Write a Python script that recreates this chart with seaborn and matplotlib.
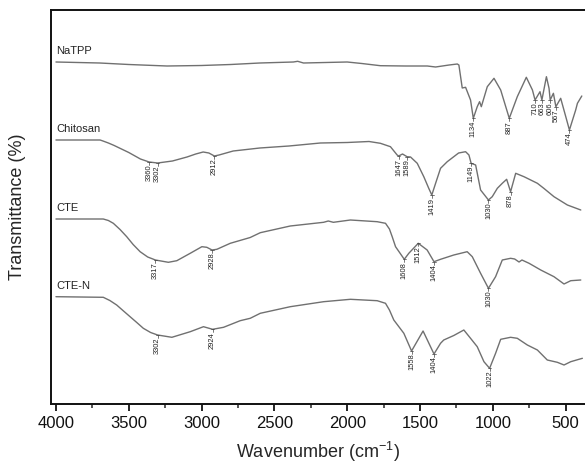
import numpy as np
import pandas as pd
import matplotlib
matplotlib.use("Agg")
import matplotlib.pyplot as plt
import seaborn as sns

# ---- data (wavenumber in cm-1, transmittance in offset arbitrary units) ----
natpp_w = [4000, 3850, 3700, 3500, 3237, 3000, 2800, 2600, 2370, 2340, 2300, 2150, 2000, 1900,
           1772, 1600, 1450, 1393, 1300, 1244, 1233, 1210, 1187, 1153, 1134, 1107, 1091, 1079,
           1038, 992, 946, 887, 832, 770, 728, 710, 676, 663, 632, 614, 606, 584, 567, 534,
           499, 474, 431, 419, 389]
natpp_t = [342, 341.5, 341, 339.5, 338, 338.5, 339.5, 341, 342, 342.7, 341, 341.5, 342, 340.5,
           338.3, 338, 338, 337, 339, 340, 339, 316, 316.7, 304, 285.7, 297.3, 302.3, 297.3,
           317.3, 325.7, 314, 285.7, 307.3, 326.7, 314, 304, 312.3, 304, 327.3, 315.7, 304,
           310.7, 297.3, 305.7, 287.3, 274, 294, 300.7, 308]

chitosan_w = [4000, 3850, 3697, 3677, 3640, 3600, 3550, 3500, 3420, 3360, 3302, 3200, 3100,
              3040, 2989, 2950, 2912, 2880, 2783, 2600, 2400, 2184, 2000, 1850, 1772, 1703,
              1657, 1647, 1620, 1589, 1565, 1519, 1474, 1440, 1419, 1390, 1359, 1313, 1235,
              1187, 1164, 1149, 1118, 1084, 1030, 1004, 969, 935, 905, 878, 843, 786, 694,
              650, 580, 488, 396]
chitosan_t = [264, 264, 264, 263, 261, 258.5, 255, 251.5, 245, 242, 241, 243, 247, 250, 252,
              251, 248, 249, 253, 256, 258, 261, 261.5, 262.5, 260.7, 257.3, 249, 248, 250,
              247.3, 247, 240.7, 227.3, 215.7, 209, 222, 235.7, 242.3, 251, 252.3, 249, 240.7,
              239, 214, 204, 207.3, 215.7, 220.7, 224.7, 212.3, 230.7, 227.3, 220.7, 215.7,
              207.3, 199, 194]

cte_w = [4000, 3675, 3640, 3606, 3560, 3514, 3470, 3422, 3370, 3317, 3228, 3170, 3078, 2998,
         2964, 2928, 2895, 2803, 2666, 2597, 2391, 2162, 2130, 2095, 1978, 1794, 1737, 1710,
         1691, 1668, 1608, 1577, 1512, 1451, 1404, 1359, 1268, 1176, 1141, 1084, 1030, 981,
         935, 878, 850, 820, 800, 751, 671, 580, 511, 465, 396]
cte_t = [185, 185, 183.5, 180.7, 174.5, 167.3, 159.5, 152.3, 147, 144, 141.7, 143.3, 150.7,
         157.3, 156.7, 154, 154.7, 160.7, 166.5, 171.3, 178, 181.7, 183, 181.7, 184, 182.3,
         180.7, 175, 167.3, 157.3, 144.7, 150.7, 160.7, 154, 142.3, 144.7, 149, 152.3, 147.3,
         130.7, 115.7, 127.3, 144, 145.7, 145, 142, 144, 140.7, 134, 127.3, 120, 123.3, 124]

cten_w = [4000, 3675, 3630, 3583, 3540, 3491, 3445, 3400, 3350, 3302, 3204, 3078, 2987, 2924,
          2849, 2735, 2666, 2597, 2391, 2162, 1978, 1794, 1737, 1710, 1680, 1611, 1558, 1479,
          1404, 1359, 1337, 1268, 1199, 1153, 1107, 1061, 1022, 981, 946, 878, 832, 763, 694,
          626, 557, 511, 465, 385]
cten_t = [107.3, 106.7, 103.5, 99, 93.5, 87.3, 81.5, 75.7, 71.5, 69, 66.7, 72.3, 77.3, 74.7,
          76.7, 83.3, 85.7, 90.7, 97.3, 102.3, 104.7, 103.3, 100.7, 94, 84, 70.7, 53, 73, 50,
          60.7, 64, 68.5, 74, 65.7, 57.3, 42.3, 35.7, 50.7, 64.7, 66.7, 65.7, 59, 54, 44,
          41.7, 39, 42.3, 45.7]

series_names = ["NaTPP", "Chitosan", "CTE", "CTE-N"]
peak_labels = {
    "NaTPP": [1134, 887, 710, 663, 606, 567, 474],
    "Chitosan": [3360, 3302, 2912, 1647, 1589, 1419, 1149, 1030, 878],
    "CTE": [3317, 2928, 1608, 1512, 1404, 1030],
    "CTE-N": [3302, 2924, 1558, 1404, 1022],
}
x_ticks = [4000, 3500, 3000, 2500, 2000, 1500, 1000, 500]

series = {
    "NaTPP": (natpp_w, natpp_t),
    "Chitosan": (chitosan_w, chitosan_t),
    "CTE": (cte_w, cte_t),
    "CTE-N": (cten_w, cten_t),
}

frames = []
for name in series_names:
    w, t = series[name]
    frames.append(pd.DataFrame({"w": w, "t": t, "sample": name}))
df = pd.concat(frames, ignore_index=True)

# ---- style ----
sns.set_style("ticks")
plt.rcParams["font.family"] = ["Liberation Sans", "DejaVu Sans"]
plt.rcParams["mathtext.default"] = "regular"

fig = plt.figure(figsize=(5.85, 4.67), dpi=100)
ax = fig.add_axes([51 / 585, 63 / 467, 1 - 51 / 585, 394 / 467])

line_col = "#707070"
sns.lineplot(data=df, x="w", y="t", hue="sample", units="sample", estimator=None,
             palette={n: line_col for n in series_names}, linewidth=1.0,
             legend=False, ax=ax)

ax.set_xlim(4034, 367)
ax.set_ylim(0, 394)

# series names
for name in series_names:
    w, t = series[name]
    ax.text(4000, t[0] + 11, name, fontsize=8, color="#222222", ha="left", va="center")

# peak labels
for name in series_names:
    w, t = series[name]
    wa = np.array(w)[::-1]
    ta = np.array(t)[::-1]
    for p in peak_labels[name]:
        y = float(np.interp(p, wa, ta))
        ax.plot([p, p], [y, y - 3], color="#444444", lw=0.5)
        ax.plot([p - 12, p + 12], [y, y], color="#444444", lw=0.5)
        ax.text(p, y - 2.5, str(p), rotation=90, fontsize=5.4, color="#222222",
                ha="center", va="top")

ax.set_xticks(x_ticks)
ax.set_xticklabels([str(v) for v in x_ticks])
ax.set_xticks(np.arange(3750, 300, -500), minor=True)
ax.set_yticks([])
ax.tick_params(axis="x", which="major", length=5, width=1.3, labelsize=12, pad=4, colors="#111111")
ax.tick_params(axis="x", which="minor", length=3, width=1.1)
for s in ["left", "bottom", "top"]:
    ax.spines[s].set_linewidth(1.4)
    ax.spines[s].set_color("#111111")
ax.spines["right"].set_visible(False)

ax.set_xlabel("Wavenumber (cm$^{-1}$)", fontsize=13, labelpad=6)
ax.set_ylabel("Transmittance (%)", fontsize=13, labelpad=18)

fig.savefig("out.png", dpi=100)
